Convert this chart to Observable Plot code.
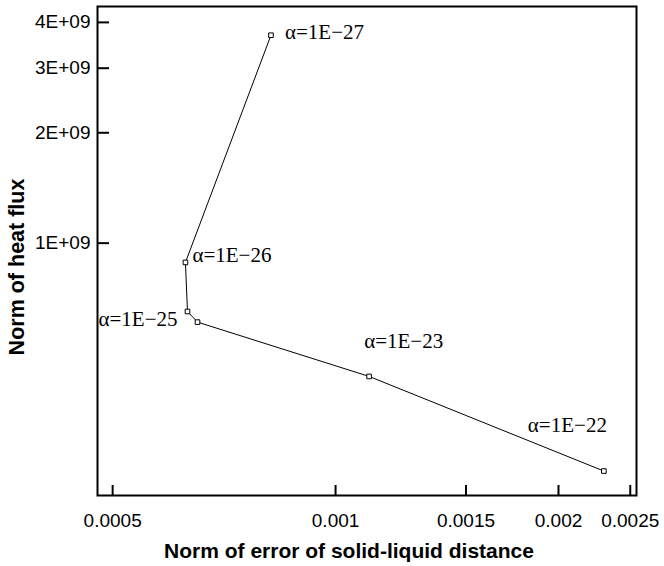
<!DOCTYPE html>
<html>
<head>
<meta charset="utf-8">
<script src="https://cdn.jsdelivr.net/npm/d3@7"></script>
<script src="https://cdn.jsdelivr.net/npm/@observablehq/plot@0.6"></script>
<style>
  html, body { margin: 0; padding: 0; background: white; }
</style>
</head>
<body>
<div id="chart"></div>
<script>
// Data (L-curve, log-log)
const alphaLabels = ["α=1E−27", "α=1E−26", "α=1E−25", "α=1E−24", "α=1E−23", "α=1E−22"];
const errorNorm = [0.000818, 0.000627, 0.000631, 0.000651, 0.001110, 0.002303];
const fluxNorm = [3.69e9, 0.886e9, 0.651e9, 0.609e9, 0.433e9, 0.239e9];
const shownLabels = ["α=1E−27", "α=1E−26", "α=1E−25", "α=1E−23", "α=1E−22"];
const xTicks = [0.0005, 0.001, 0.0015, 0.002, 0.0025];
const yTicks = [1e9, 2e9, 3e9, 4e9];
const xTitle = "Norm of error of solid-liquid distance";
const yTitle = "Norm of heat flux";

const data = alphaLabels.map((a, i) => ({alpha: a, err: errorNorm[i], flux: fluxNorm[i]}));

// label placement (styling only)
const placement = {
  "α=1E−27": {dx: 14, dy: -3, textAnchor: "start"},
  "α=1E−26": {dx: 7, dy: -7, textAnchor: "start"},
  "α=1E−25": {dx: -10, dy: 8, textAnchor: "end"},
  "α=1E−23": {dx: -5, dy: -35, textAnchor: "start"},
  "α=1E−22": {dx: -76, dy: -46, textAnchor: "start"}
};

const labelMarks = shownLabels.map(lab => Plot.text(data.filter(d => d.alpha === lab), {
  x: "err", y: "flux", text: "alpha",
  fontFamily: "Liberation Serif, Times New Roman, serif",
  fontSize: 21,
  fill: "black",
  ...placement[lab]
}));

const chart = Plot.plot({
  width: 664,
  height: 566,
  marginLeft: 97,
  marginRight: 28,
  marginTop: 6,
  marginBottom: 71,
  style: {fontFamily: "Liberation Sans, Arial, sans-serif", fontSize: "19px", background: "white", color: "black"},
  x: {type: "log", domain: [0.000477, 0.002549]},
  y: {type: "log", domain: [2.05e8, 4.42e9]},
  marks: [
    Plot.axisX(xTicks, {tickSize: 0, tickPadding: 18, tickFormat: d => String(d), label: null, fontSize: 19}),
    Plot.axisX(xTicks, {tickSize: -10, strokeWidth: 2, text: null, label: null}),
    Plot.axisY(yTicks, {tickSize: 0, tickPadding: 7, tickFormat: d => (d / 1e9) + "E+09", label: null, fontSize: 19}),
    Plot.axisY(yTicks, {tickSize: -12, strokeWidth: 2, text: null, label: null}),
    Plot.frame({stroke: "black", strokeWidth: 2}),
    Plot.line(data, {x: "err", y: "flux", stroke: "black", strokeWidth: 1}),
    Plot.dot(data, {x: "err", y: "flux", symbol: "square", r: 2.6, stroke: "black", fill: "white", strokeWidth: 1}),
    ...labelMarks,
    Plot.text([xTitle], {frameAnchor: "bottom", lineAnchor: "middle", textAnchor: "middle", dy: 56, dx: -18, fontWeight: "bold", fontSize: 21, fill: "black"}),
    Plot.text([yTitle], {frameAnchor: "left", lineAnchor: "middle", textAnchor: "middle", dx: -80, dy: 16, rotate: -90, fontWeight: "bold", fontSize: 21.5, fill: "black"})
  ]
});
document.getElementById("chart").appendChild(chart);
</script>
</body>
</html>
